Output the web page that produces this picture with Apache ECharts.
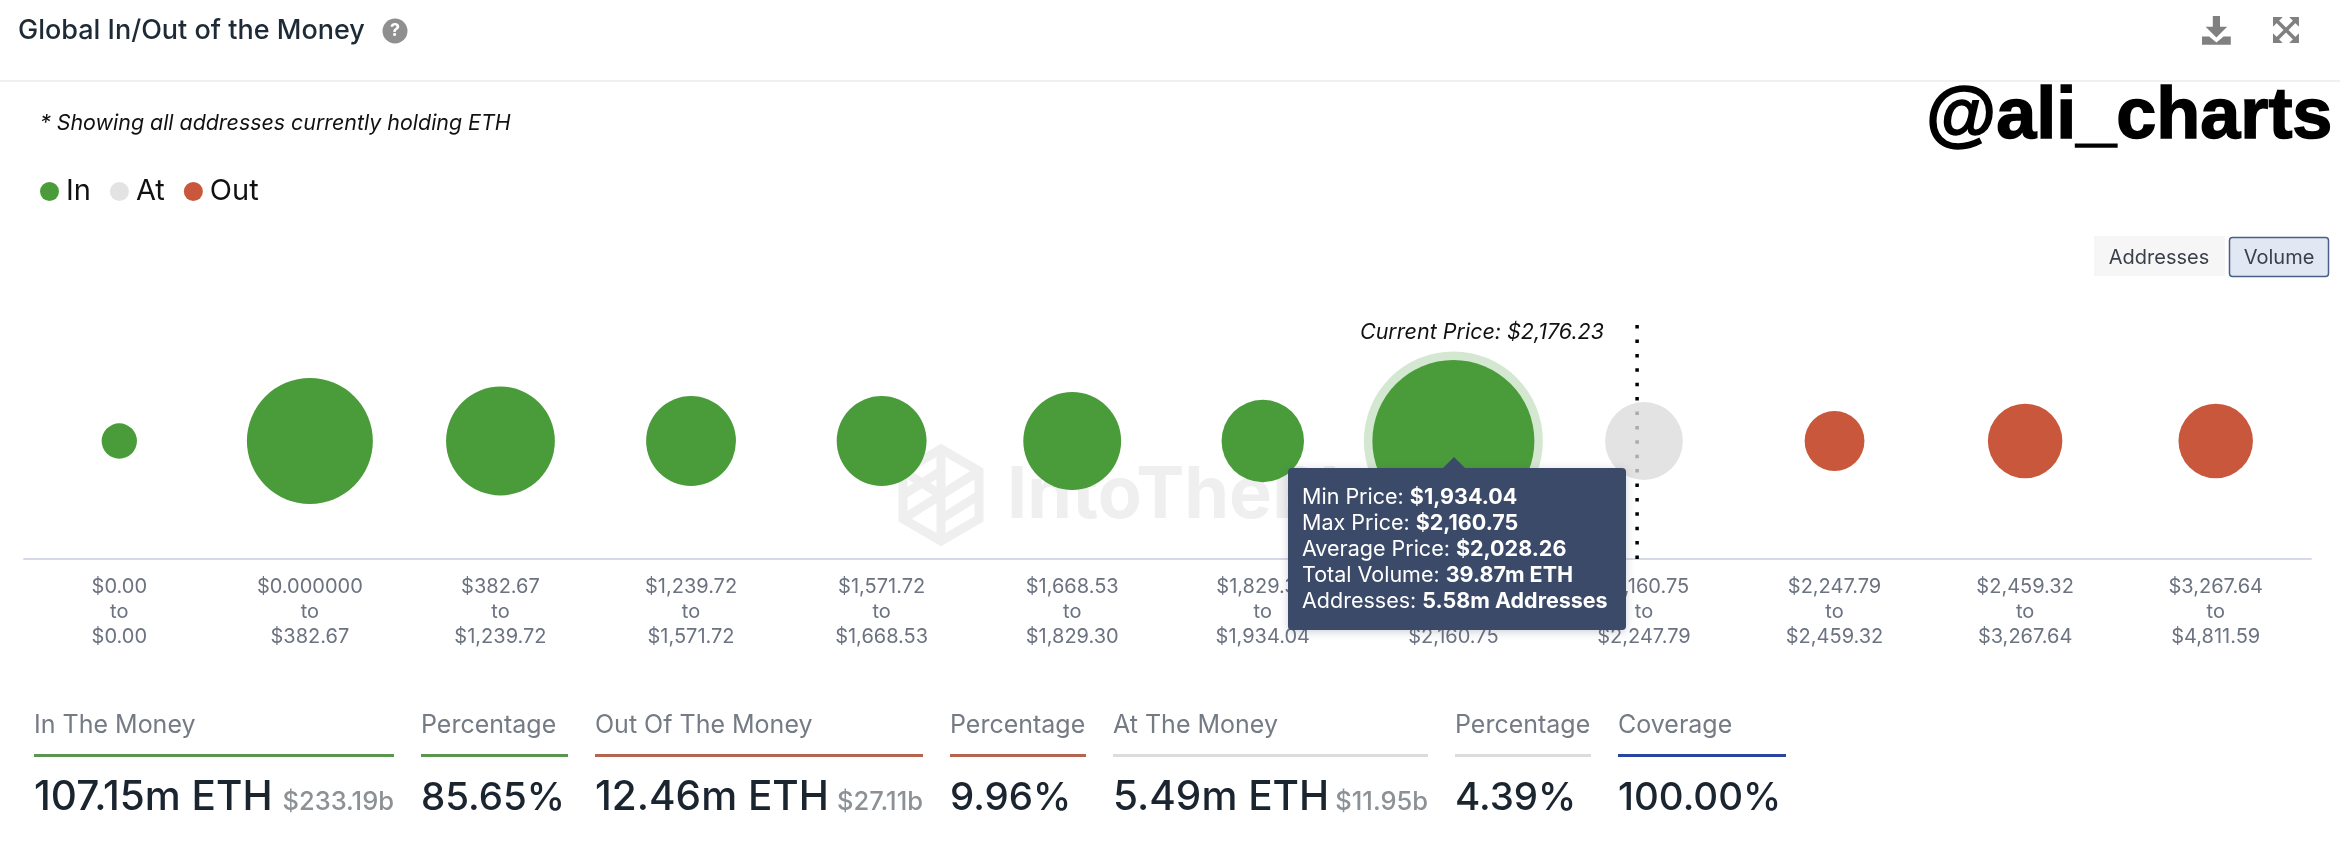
<!DOCTYPE html>
<html lang="en">

<head>
    <meta charset="UTF-8">
    <title>Global In/Out of the Money</title>
    <script src="https://cdn.jsdelivr.net/npm/echarts@6/dist/echarts.min.js"></script>
    <style>
        html, body { margin: 0; background: #fff; }
    </style>
</head>

<body>
    <div id="main" style="width: 2340px;height:842px;"></div>
    <script type="text/javascript">
        // Price clusters, one bubble each
        const lowerPrices = ['$0.00', '$0.000000', '$382.67', '$1,239.72', '$1,571.72', '$1,668.53', '$1,829.30', '$1,934.04', '$2,160.75', '$2,247.79', '$2,459.32', '$3,267.64'];
        const upperPrices = ['$0.00', '$382.67', '$1,239.72', '$1,571.72', '$1,668.53', '$1,829.30', '$1,934.04', '$2,160.75', '$2,247.79', '$2,459.32', '$3,267.64', '$4,811.59'];
        // Volume in millions of ETH
        const volumes = [0.65, 20.2, 13.6, 8.1, 8.1, 10.2, 6.43, 39.87, 5.49, 2.7, 4.88, 4.88];
        const zones = ['In', 'In', 'In', 'In', 'In', 'In', 'In', 'In', 'At', 'Out', 'Out', 'Out'];
        const zoneNames = ['In', 'At', 'Out'];

        // Position of the current price along the clusters
        const currentPriceLabel = 'Current Price: $2,176.23';
        const currentPricePos = 8.464;

        // The cluster the tooltip is open on
        const hoveredIndex = 7;
        const tooltipRows = [
            ['Min Price', '$1,934.04'],
            ['Max Price', '$2,160.75'],
            ['Average Price', '$2,028.26'],
            ['Total Volume', '39.87m ETH'],
            ['Addresses', '5.58m Addresses']
        ];

        // Summary row under the chart
        const statLabels = ['In The Money', 'Percentage', 'Out Of The Money', 'Percentage', 'At The Money', 'Percentage', 'Coverage'];
        const statValues = ['107.15m ETH', '85.65%', '12.46m ETH', '9.96%', '5.49m ETH', '4.39%', '100.00%'];
        const statUsd = ['$233.19b', '', '$27.11b', '', '$11.95b', '', ''];
        const statStarts = [34, 421, 595, 950, 1113, 1455, 1618];
        const statEnds = [394, 568, 923, 1086, 1428, 1591, 1786];
        const statColors = ['#5b9650', '#5b9650', '#b5654f', '#b5654f', '#dcdcdc', '#dcdcdc', '#2a44a0'];

        const colors = { In: '#4a9c3a', At: '#dbdbdb', Out: '#c9573c' };
        const font = 'Inter';

        const categories = lowerPrices.map((low, i) => low + '\nto\n' + upperPrices[i]);
        const bubbleSize = (val) => 162 * Math.pow(val[2] / volumes[hoveredIndex], 0.37);
        const pointsFor = (zone) => volumes
            .map((v, i) => [i, 1, v])
            .filter((p) => zones[p[0]] === zone);

        // Text and shapes around the chart
        function text(x, y, str, size, color, extra) {
            return {
                type: 'text', x: x, y: y, silent: true,
                style: Object.assign({
                    text: str, fontFamily: font, fontSize: size, fill: color,
                    verticalAlign: 'middle'
                }, extra || {})
            };
        }
        function rect(x, y, w, h, fill) {
            return {
                type: 'rect', silent: true,
                shape: { x: x, y: y, width: w, height: h },
                style: { fill: fill }
            };
        }
        // icon parts are given in their own units, scaled and moved to x, y
        function poly(x, y, scale, points, fill) {
            return {
                type: 'polygon', silent: true, x: x, y: y, scaleX: scale, scaleY: scale,
                shape: { points: points },
                style: { fill: fill }
            };
        }
        function stroked(type, points, color, width, z) {
            return {
                type: type, silent: true, z: z,
                shape: { points: points },
                style: { fill: 'none', stroke: color, lineWidth: width, lineJoin: 'miter' }
            };
        }

        const iconGrey = '#808080';
        const graphics = [
            rect(0, 80, 2340, 2, '#f0f0f0'),
            text(18, 30.5, 'Global In/Out of the Money', 27, '#1e2a36', { fontWeight: 500 }),
            { type: 'circle', silent: true, shape: { cx: 395, cy: 31, r: 12.5 }, style: { fill: '#8f8f8f' } },
            text(395, 31, '?', 18, '#fff', { fontWeight: 700, align: 'center' }),
            text(40, 124, '* Showing all addresses currently holding ETH', 21.4, '#111', { fontStyle: 'italic' }),
            text(1926, 118, '@ali_charts', 72, '#000', { fontFamily: 'Liberation Sans', fontWeight: 700, stroke: '#000', lineWidth: 1.5 }),
            // download icon
            poly(2202, 16, 1.2, [[9, 0], [15, 0], [15, 9], [21, 9], [12, 18], [3, 9], [9, 9]], iconGrey),
            poly(2202, 16, 1.2, [[0, 17], [6, 17], [12, 22], [18, 17], [24, 17], [24, 24], [0, 24]], iconGrey),
            // expand icon
            poly(2273, 17, 1.08, [[0, 0], [9, 0], [0, 9]], iconGrey),
            poly(2273, 17, 1.08, [[24, 0], [24, 9], [15, 0]], iconGrey),
            poly(2273, 17, 1.08, [[0, 24], [0, 15], [9, 24]], iconGrey),
            poly(2273, 17, 1.08, [[24, 24], [15, 24], [24, 15]], iconGrey),
            stroked('polyline', [[2276, 20], [2296, 40]], iconGrey, 3.5),
            stroked('polyline', [[2296, 20], [2276, 40]], iconGrey, 3.5),
            rect(2094, 236, 131, 40, '#f6f6f6'),
            text(2159, 258, 'Addresses', 20, '#3a3f4a', { align: 'center' }),
            {
                type: 'rect', silent: true,
                shape: { x: 2229.5, y: 237.5, width: 99, height: 39, r: 3 },
                style: { fill: '#e1e7f3', stroke: '#4a5f85', lineWidth: 1.5 }
            },
            text(2279, 258, 'Volume', 20, '#3a3f4a', { align: 'center' }),
            text(1604, 333, currentPriceLabel, 21.5, '#111', { fontStyle: 'italic', align: 'right' }),
            // watermark, sits behind the bubbles
            Object.assign(text(1007, 496, 'IntoTheBlock', 72, '#efefef', { fontWeight: 700 }), { z: -1 }),
            stroked('polygon', [[941, 449], [979, 471], [979, 519], [941, 541], [903, 519], [903, 471]], '#efefef', 9, -1),
            stroked('polyline', [[903, 471], [941, 495], [979, 471]], '#efefef', 9, -1),
            stroked('polyline', [[941, 449], [941, 495]], '#efefef', 9, -1),
            stroked('polyline', [[903, 519], [979, 471]], '#efefef', 9, -1),
            stroked('polyline', [[941, 495], [941, 541]], '#efefef', 9, -1),
            stroked('polyline', [[903, 495], [941, 471]], '#efefef', 9, -1),
            stroked('polyline', [[941, 519], [979, 495]], '#efefef', 9, -1)
        ];

        statLabels.forEach((label, i) => {
            graphics.push(text(statStarts[i], 725.5, label, 25, '#747b85'));
            graphics.push(rect(statStarts[i], 754, statEnds[i] - statStarts[i], 3, statColors[i]));
            // the ETH amounts run a little wider than the percentages
            graphics.push(text(statStarts[i], 798, statValues[i], statUsd[i] ? 40.5 : 38.5, '#1a2530', { fontWeight: 500 }));
            if (statUsd[i]) {
                graphics.push(text(statEnds[i], 802, statUsd[i], 25.5, '#8c9196', { fontWeight: 500, align: 'right' }));
            }
        });

        const tooltipHtml = '<div style="position:relative;box-sizing:border-box;width:338px;height:162px;padding:15px 14px;'
            + 'background:#3b4a68;border-radius:4px;color:#fff;font:400 21.5px/26px Inter;white-space:nowrap;'
            + 'box-shadow:0 2px 8px rgba(60,70,110,.25);">'
            + '<div style="position:absolute;left:155px;top:-11px;width:0;height:0;border-left:11px solid transparent;'
            + 'border-right:11px solid transparent;border-bottom:11px solid #3b4a68;"></div>'
            + tooltipRows.map((r) => r[0] + ': <b style="font-weight:700">' + r[1] + '</b>').join('<br>')
            + '</div>';

        let myChart = echarts.init(document.getElementById('main'));

        let options = {
            animation: false,
            backgroundColor: '#fff',
            color: [colors.In, colors.At, colors.Out],
            graphic: { elements: graphics },
            legend: {
                data: zoneNames,
                left: 40,
                top: 177,
                padding: 0,
                icon: 'circle',
                itemWidth: 19,
                itemHeight: 19,
                itemGap: 19,
                selectedMode: false,
                textStyle: { fontFamily: font, fontSize: 29, color: '#111', padding: [0, 0, 0, 2] }
            },
            tooltip: {
                trigger: 'item',
                alwaysShowContent: true,
                transitionDuration: 0,
                padding: 0,
                borderWidth: 0,
                backgroundColor: 'transparent',
                extraCssText: 'box-shadow:none;',
                formatter: () => tooltipHtml,
                position: () => {
                    const c = myChart.convertToPixel({ seriesIndex: 0 }, [hoveredIndex, 1]);
                    return [c[0] - 165, c[1] + 27];
                }
            },
            grid: { left: 24, right: 29, top: 323, bottom: 283 },
            xAxis: [{
                type: 'category',
                data: categories,
                axisLine: { lineStyle: { color: '#d5dae6', width: 2 } },
                axisTick: { show: false },
                axisLabel: {
                    interval: 0,
                    margin: 15,
                    fontFamily: font,
                    fontSize: 20,
                    lineHeight: 25,
                    color: '#6b7280'
                }
            }, {
                type: 'value',
                min: 0,
                max: 12,
                show: false
            }],
            yAxis: { type: 'value', min: 0, max: 2, show: false },
            series: [
                {
                    name: 'In',
                    type: 'scatter',
                    z: 3,
                    data: pointsFor('In'),
                    symbolSize: bubbleSize,
                    itemStyle: { color: colors.In, opacity: 1 }
                },
                {
                    name: 'At',
                    type: 'scatter',
                    z: 3,
                    data: pointsFor('At'),
                    symbolSize: bubbleSize,
                    itemStyle: { color: colors.At, opacity: 0.78 }
                },
                {
                    name: 'Out',
                    type: 'scatter',
                    z: 3,
                    data: pointsFor('Out'),
                    symbolSize: bubbleSize,
                    itemStyle: { color: colors.Out, opacity: 1 }
                },
                {
                    // ring around the hovered bubble
                    name: 'hover',
                    type: 'scatter',
                    z: 2,
                    silent: true,
                    data: [[hoveredIndex, 1, volumes[hoveredIndex]]],
                    symbolSize: (val) => bubbleSize(val) + 17,
                    itemStyle: { color: colors.In, opacity: 0.24 }
                },
                {
                    name: 'Current Price',
                    type: 'line',
                    xAxisIndex: 1,
                    z: 1,
                    silent: true,
                    symbol: 'none',
                    data: [[currentPricePos, 0], [currentPricePos, 2]],
                    lineStyle: { color: '#000', width: 3.5, type: [3.5, 10.9] }
                }
            ]
        };

        myChart.setOption(options);
        myChart.dispatchAction({ type: 'showTip', seriesIndex: 0, dataIndex: hoveredIndex });
    </script>
</body>

</html>
